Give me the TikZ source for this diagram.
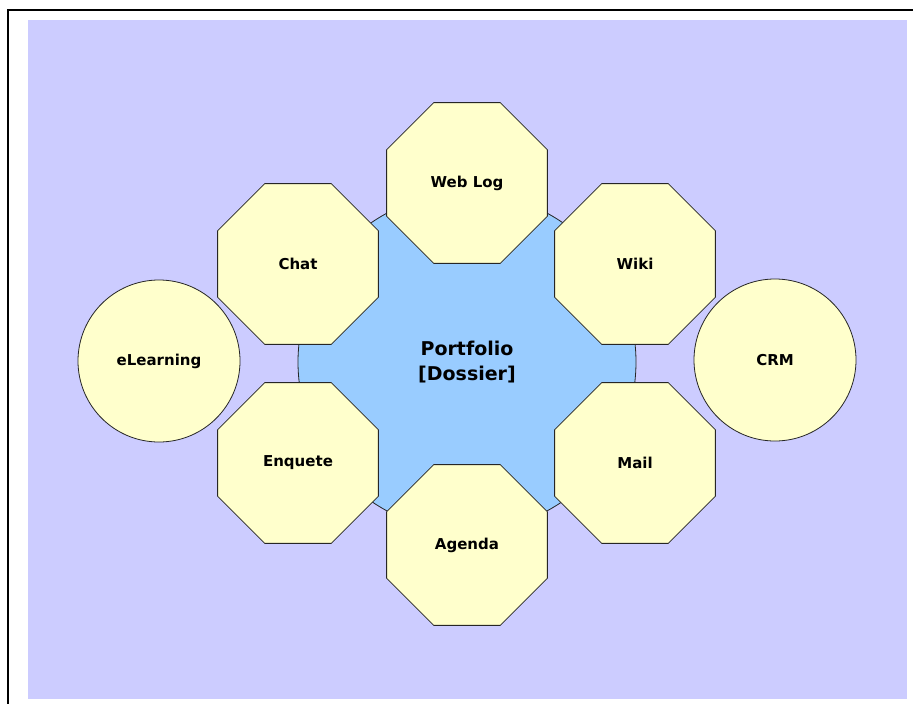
\documentclass[tikz,border=0pt]{standalone}
\usepackage{fontspec}
\setmainfont{DejaVu Sans}
\usetikzlibrary{shapes.geometric}
\definecolor{lavender}{HTML}{CCCCFF}
\definecolor{paleyellow}{HTML}{FFFFCC}
\definecolor{skyblue}{HTML}{99CCFF}
\begin{document}
\begin{tikzpicture}[x=1pt, y=-1pt,
    tool/.style={draw=black!85, line width=0.8pt, fill=paleyellow, regular polygon, regular polygon sides=8,
        minimum size=174pt, inner sep=0pt, font=\fontsize{15}{17}\selectfont\bfseries},
    system/.style={draw=black!85, line width=0.8pt, fill=paleyellow, circle, minimum size=162pt, inner sep=0pt,
        font=\fontsize{15}{17}\selectfont\bfseries},
    hub/.style={draw=black!85, line width=0.8pt, fill=skyblue, circle, minimum size=338pt, inner sep=0pt, align=center,
        font=\fontsize{19}{25}\selectfont\bfseries}]
    \useasboundingbox (0,0) rectangle (913,704);
    \fill[white] (0,0) rectangle (913,704);
    \fill[lavender] (28,20) rectangle (907,699);
    \draw[line width=2pt] (7.5,704) -- (7.5,10) -- (913,10);
    \node at (467,362) [hub] (portfolio) {Portfolio\\{[Dossier]}};
    \node at (467,183) [tool] (weblog) {Web Log};
    \node at (298,264) [tool] (chat) {Chat};
    \node at (635,264) [tool] (wiki) {Wiki};
    \node at (298,463) [tool] (enquete) {Enquete};
    \node at (635,463) [tool] (mail) {Mail};
    \node at (467,545) [tool] (agenda) {Agenda};
    \node at (159,361) [system] (elearning) {eLearning};
    \node at (775,360) [system] (crm) {CRM};
\end{tikzpicture}
\end{document}
